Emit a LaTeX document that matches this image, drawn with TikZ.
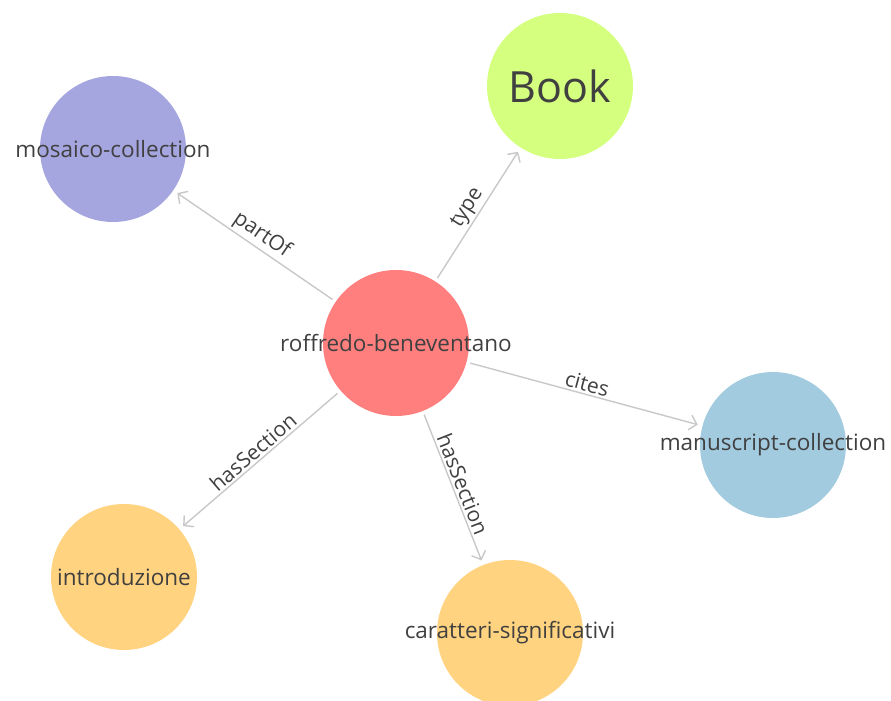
\documentclass[tikz,border=0pt]{standalone}
\usepackage{fontspec}
\setmainfont{Open Sans}
\usetikzlibrary{arrows.meta}
\definecolor{txt}{RGB}{64,64,64}
\definecolor{edgegray}{RGB}{200,200,200}
\definecolor{cred}{RGB}{255,127,127}
\definecolor{clime}{RGB}{212,255,127}
\definecolor{clav}{RGB}{165,165,224}
\definecolor{cblue}{RGB}{163,203,224}
\definecolor{corange}{RGB}{255,211,127}
\tikzset{
  ball/.style={circle, minimum size=146pt, inner sep=0pt, outer sep=0pt, draw=none},
  capt/.style={font=\fontsize{22.5}{27}\selectfont, text=txt},
  edge/.style={draw=edgegray, line width=1.4pt, -{Straight Barb[length=7pt,width=15pt,line width=1.4pt]},
               shorten <=4pt, shorten >=5pt},
  lbl/.style={font=\fontsize{21}{25}\selectfont, text=txt, sloped, above, inner sep=2pt}
}
\begin{document}
\begin{tikzpicture}[x=1pt, y=-1pt]
  \useasboundingbox (0,0) rectangle (891,701);
  % resource nodes
  \node[ball, fill=cred] (rb) at (396,343) {};
  \node[ball, fill=clime] (book) at (560,86) {};
  \node[ball, fill=clav] (mos) at (113,149) {};
  \node[ball, fill=cblue] (man) at (773,445) {};
  \node[ball, fill=corange] (intro) at (124,577) {};
  \node[ball, fill=corange] (car) at (510,633) {};
  % relations
  \draw[edge] (rb) -- node[lbl]{partOf} (mos);
  \draw[edge] (rb) -- node[lbl]{type} (book);
  \draw[edge] (rb) -- node[lbl]{cites} (man);
  \draw[edge] (rb) -- node[lbl]{hasSection} (intro);
  \draw[edge] (rb) -- node[lbl]{hasSection} (car);
  % node captions
  \node[capt] (rbt) at (rb) {roffredo-beneventano};
  \node[font=\fontsize{43}{50}\selectfont, text=txt] (bookt) at (book) {Book};
  \node[capt] (most) at (mos) {mosaico-collection};
  \node[capt] (mant) at (man) {manuscript-collection};
  \node[capt] (introt) at (intro) {introduzione};
  \node[capt] (cart) at (car) {caratteri-significativi};
\end{tikzpicture}
\end{document}
